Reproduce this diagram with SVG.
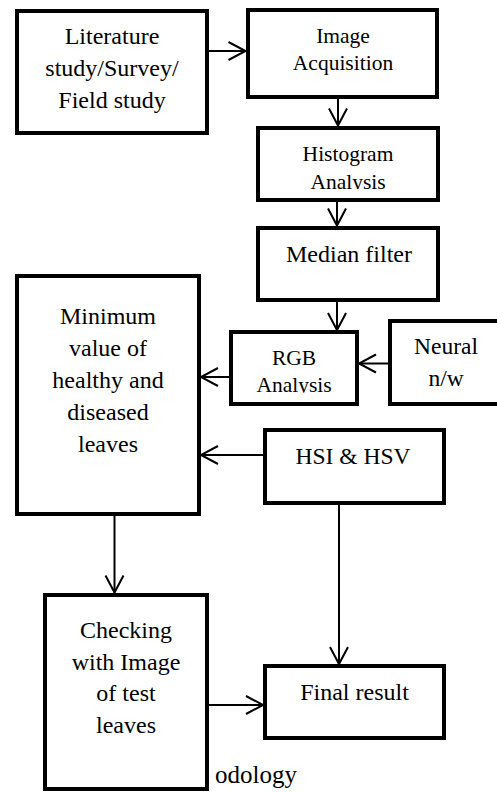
<svg xmlns="http://www.w3.org/2000/svg" width="497" height="794" viewBox="0 0 497 794">
<style>
.box{fill:#fff;stroke:#000;stroke-width:4;stroke-linejoin:miter}
.conn{fill:none;stroke:#000;stroke-width:2;marker-end:url(#arr)}
text{fill:#000;text-anchor:middle}
.t24{font-size:24px}
.t21{font-size:21.5px}
.t23{font-size:23.5px}
</style>
<defs>
<marker id="arr" markerUnits="userSpaceOnUse" markerWidth="20" markerHeight="20" refX="0" refY="0" orient="auto" overflow="visible">
<path d="M-17,-9 L0,0 L-17,9" fill="none" stroke="#000" stroke-width="2"/>
</marker>
<clipPath id="clipHist"><rect x="258" y="128" width="180" height="61"/></clipPath>
<clipPath id="clipRGB"><rect x="231" y="332" width="126" height="60.8"/></clipPath>
</defs>
<rect width="497" height="794" fill="#fff"/>
<g font-family="Liberation Serif, Tinos, DejaVu Serif, serif">
<text id="caption" x="297" y="783" style="font-size:25px;text-anchor:end">odology</text>
<g id="connectors">
<path class="conn" d="M209,51 H245.5"/>
<path class="conn" d="M338,99 V125.5"/>
<path class="conn" d="M337,202 V225.5"/>
<path class="conn" d="M337,302 V330"/>
<path class="conn" d="M388,363.5 H359"/>
<path class="conn" d="M229,377 H201"/>
<path class="conn" d="M263,455 H201"/>
<path class="conn" d="M114.5,516 V592.5"/>
<path class="conn" d="M339,505 V664"/>
<path class="conn" d="M209,705 H263"/>
</g>
<g id="literature">
<rect class="box" x="17" y="11" width="190" height="122"/>
<text class="t24" x="112" y="44">Literature</text>
<text class="t24" x="112" y="76">study/Survey/</text>
<text class="t24" x="112" y="108">Field study</text>
</g>
<g id="acquisition">
<rect class="box" x="248" y="10" width="189" height="87"/>
<text class="t21" x="343" y="42.7">Image</text>
<text class="t21" x="343" y="70">Acquisition</text>
</g>
<g id="histogram">
<rect class="box" x="258" y="128" width="180" height="72"/>
<text class="t21" x="348" y="161">Histogram</text>
<text class="t21" x="348" y="188.5" clip-path="url(#clipHist)">Analysis</text>
</g>
<g id="median">
<rect class="box" x="258" y="228" width="180" height="72"/>
<text class="t24" x="349" y="262">Median filter</text>
</g>
<g id="rgb">
<rect class="box" x="231" y="332" width="126" height="72"/>
<text class="t21" x="294" y="364.5">RGB</text>
<text class="t21" x="294" y="392.2" clip-path="url(#clipRGB)">Analysis</text>
</g>
<g id="neural">
<rect class="box" x="390" y="321" width="130" height="83"/>
<text class="t23" x="446" y="353.5">Neural</text>
<text class="t23" x="446" y="385.5">n/w</text>
</g>
<g id="minimum">
<rect class="box" x="17" y="276" width="182" height="238"/>
<text class="t24" x="108" y="324">Minimum</text>
<text class="t24" x="108" y="356">value of</text>
<text class="t24" x="108" y="387.5">healthy and</text>
<text class="t24" x="108" y="419.5">diseased</text>
<text class="t24" x="108" y="451.7">leaves</text>
</g>
<g id="hsi">
<rect class="box" x="265" y="430" width="179" height="73"/>
<text class="t23" x="353" y="463.5">HSI &amp; HSV</text>
</g>
<g id="checking">
<rect class="box" x="45" y="595" width="162" height="194"/>
<text class="t24" x="126" y="637.5">Checking</text>
<text class="t24" x="126" y="669.5">with Image</text>
<text class="t24" x="126" y="701">of test</text>
<text class="t24" x="126" y="732.5">leaves</text>
</g>
<g id="final">
<rect class="box" x="265" y="666" width="179" height="72"/>
<text class="t24" x="354.5" y="700">Final result</text>
</g>
</g>
</svg>
